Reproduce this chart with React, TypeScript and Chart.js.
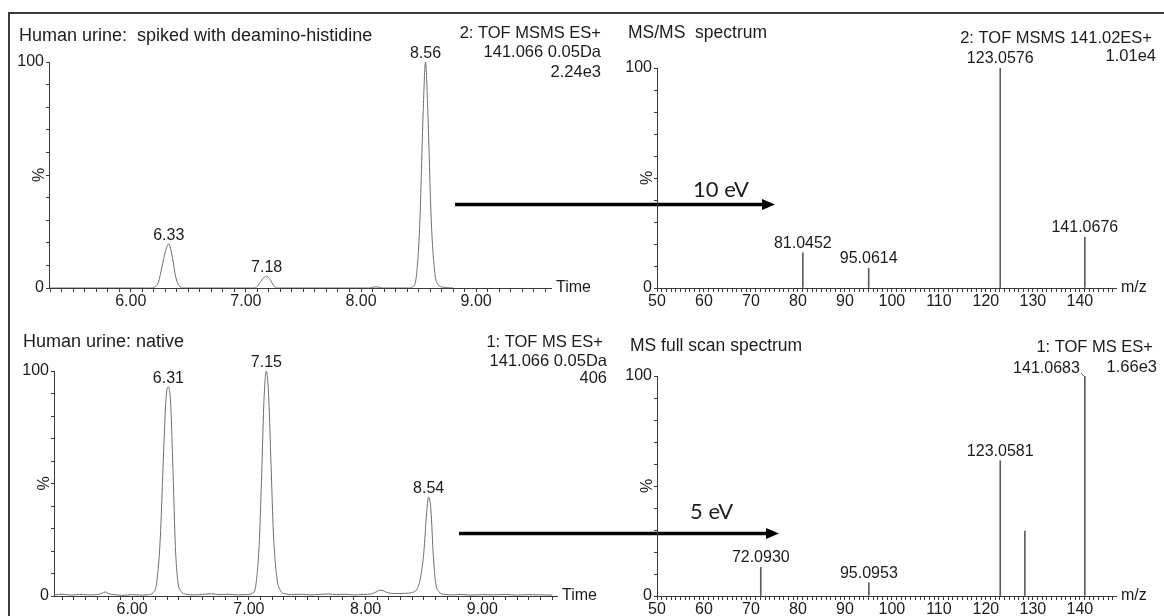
import React, { useEffect, useRef } from "react";
import { Chart, registerables } from "chart.js";

Chart.register(...registerables);

const PAGE_W = 1164;
const PAGE_H = 616;
const SANS = '"Liberation Sans", Arial, Helvetica, sans-serif';
const EV_FONT = 'Lato, "Open Sans", sans-serif';
const TEXT = "#1c1c1c";
const AXIS = "#3a3a3a";
const TRACE = "#6e6e6e";
const STICK = "#5e5e5e";

// ---------- data: chromatogram, spiked urine (2.24e3) ----------
const spikedTime = [5.30, 6.17, 6.21, 6.24, 6.27, 6.30, 6.33, 6.36, 6.39, 6.42, 6.46, 7.07, 7.10, 7.13, 7.16, 7.18, 7.21, 7.24, 7.27, 8.07, 8.10, 8.13, 8.16, 8.19, 8.41, 8.45, 8.48, 8.51, 8.54, 8.56, 8.58, 8.61, 8.64, 8.67, 8.71, 8.80];
const spikedPct = [0, 0, 0.5, 2.5, 9, 16, 19.5, 14, 5, 1, 0, 0, 0.8, 3, 4.8, 5.2, 3.8, 1.2, 0, 0, 0.3, 0.5, 0.3, 0, 0, 0.6, 5, 28, 78, 100, 78, 30, 7, 1.5, 0.4, 0];
const spikedPeakTimes = [6.33, 7.18, 8.56];

// ---------- data: chromatogram, native urine (406) ----------
const nativeTime = [5.33, 5.40, 5.48, 5.55, 5.62, 5.70, 5.74, 5.77, 5.80, 5.85, 5.92, 6.00, 6.08, 6.14, 6.18, 6.21, 6.24, 6.27, 6.29, 6.31, 6.33, 6.35, 6.37, 6.39, 6.42, 6.46, 6.52, 6.60, 6.68, 6.75, 6.82, 6.90, 6.98, 7.03, 7.06, 7.09, 7.11, 7.13, 7.15, 7.17, 7.19, 7.21, 7.24, 7.27, 7.31, 7.38, 7.45, 7.52, 7.60, 7.68, 7.75, 7.82, 7.90, 7.98, 8.05, 8.09, 8.12, 8.15, 8.18, 8.22, 8.28, 8.34, 8.40, 8.44, 8.47, 8.50, 8.52, 8.54, 8.56, 8.58, 8.60, 8.63, 8.67, 8.75, 8.82, 8.90, 9.00, 9.10, 9.20, 9.30, 9.40, 9.50, 9.60];
const nativePct = [0.5, 0.8, 0.4, 0.7, 0.5, 0.6, 1.2, 1.8, 1.0, 0.6, 0.3, 0.6, 0.4, 0.6, 1.5, 6, 25, 65, 88, 93, 85, 55, 22, 7, 2, 0.8, 0.5, 0.7, 1.0, 0.6, 0.8, 0.5, 0.6, 1.2, 5, 25, 55, 88, 100, 88, 58, 28, 8, 2.5, 1.0, 0.6, 0.8, 0.5, 0.7, 0.9, 0.6, 0.8, 0.5, 0.7, 0.9, 1.8, 2.6, 2.4, 1.6, 1.2, 1.1, 1.2, 1.6, 3, 8, 20, 35, 44, 38, 18, 6, 1.8, 0.8, 0.5, 0.7, 0.4, 0.6, 0.5, 0.7, 0.4, 0.6, 0.5, 0.4];
const nativePeakTimes = [6.31, 7.15, 8.54];

// ---------- data: MS/MS spectrum (1.01e4) ----------
const msmsMz = [81.0452, 95.0614, 123.0576, 141.0676];
const msmsPct = [16, 9, 100, 23];
const msmsLabels = ["81.0452", "95.0614", "123.0576", "141.0676"];

// ---------- data: MS full scan spectrum (1.66e3) ----------
const fullMz = [72.093, 95.0953, 123.0581, 128.3, 141.0683];
const fullPct = [13, 6, 61.5, 29.5, 100];
const fullLabels = ["72.0930", "95.0953", "123.0581", "", "141.0683"];

// ---------- tick labels ----------
const timeMajorTicks = [6, 7, 8, 9];
const mzMajorTicks = [50, 60, 70, 80, 90, 100, 110, 120, 130, 140];
const pctLabelTicks = [0, 100];

// ---------- layout ----------
type Panel = { left: number; top: number; bottom: number; right: number; xMin: number; xMax: number };
const TL: Panel = { left: 49, top: 62, bottom: 288, right: 551, xMin: 5.29, xMax: 9.65 };
const BL: Panel = { left: 54, top: 371, bottom: 596, right: 557, xMin: 5.33, xMax: 9.64 };
const TR: Panel = { left: 657, top: 68, bottom: 288, right: 1116, xMin: 50, xMax: 147.7 };
const BR: Panel = { left: 657, top: 376, bottom: 596, right: 1116, xMin: 50, xMax: 147.7 };
const Y_BOX = 40;
const X_BOX = 18;

type Txt = { s: string; x: number; y: number; align: CanvasTextAlign; size: number; family?: string };

const topLeftTexts: Txt[] = [
  { s: "Human urine:  spiked with deamino-histidine", x: 19, y: 36, align: "left", size: 18 },
  { s: "2: TOF MSMS ES+", x: 601, y: 33, align: "right", size: 16.5 },
  { s: "141.066 0.05Da", x: 601, y: 52, align: "right", size: 16.5 },
  { s: "2.24e3", x: 601, y: 72, align: "right", size: 16.5 },
];
const topRightTexts: Txt[] = [
  { s: "MS/MS  spectrum", x: 628, y: 33, align: "left", size: 17.5 },
  { s: "2: TOF MSMS 141.02ES+", x: 1152, y: 38, align: "right", size: 16.5 },
  { s: "1.01e4", x: 1156, y: 56, align: "right", size: 16.5 },
  { s: "10 eV", x: 693, y: 190, align: "left", size: 22, family: EV_FONT },
];
const bottomLeftTexts: Txt[] = [
  { s: "Human urine: native", x: 23, y: 342, align: "left", size: 18 },
  { s: "1: TOF MS ES+", x: 603, y: 342, align: "right", size: 16.5 },
  { s: "141.066 0.05Da", x: 607, y: 361, align: "right", size: 16.5 },
  { s: "406", x: 607, y: 378, align: "right", size: 16.5 },
];
const bottomRightTexts: Txt[] = [
  { s: "MS full scan spectrum", x: 630, y: 346, align: "left", size: 17.5 },
  { s: "1: TOF MS ES+", x: 1153, y: 347, align: "right", size: 16.5 },
  { s: "1.66e3", x: 1157, y: 367, align: "right", size: 16.5 },
  { s: "5 eV", x: 690, y: 512, align: "left", size: 22, family: EV_FONT },
];

type Arrow = { x0: number; x1: number; y: number };
const topArrow: Arrow = { x0: 455, x1: 775, y: 204.5 };
const bottomArrow: Arrow = { x0: 459, x1: 779, y: 533.5 };

function drawText(ctx: CanvasRenderingContext2D, t: Txt) {
  ctx.save();
  ctx.font = `${t.size}px ${t.family ?? SANS}`;
  ctx.fillStyle = TEXT;
  ctx.textAlign = t.align;
  ctx.textBaseline = "middle";
  ctx.fillText(t.s, t.x, t.y);
  ctx.restore();
}

function drawArrow(ctx: CanvasRenderingContext2D, a: Arrow) {
  ctx.save();
  ctx.strokeStyle = "#000";
  ctx.fillStyle = "#000";
  ctx.lineWidth = 3.5;
  ctx.beginPath();
  ctx.moveTo(a.x0, a.y);
  ctx.lineTo(a.x1 - 11, a.y);
  ctx.stroke();
  ctx.beginPath();
  ctx.moveTo(a.x1, a.y);
  ctx.lineTo(a.x1 - 13, a.y - 5.5);
  ctx.lineTo(a.x1 - 13, a.y + 5.5);
  ctx.closePath();
  ctx.fill();
  ctx.restore();
}

function stepTicks(min: number, max: number, step: number) {
  const out: number[] = [];
  const start = Math.ceil(min / step - 1e-9);
  for (let k = start; k * step <= max + 1e-9; k++) out.push(Math.round(k * step * 1000) / 1000);
  return out;
}

function baseOptions(p: Panel, xStep: number, xMajors: number[], xFmt: (v: number) => string) {
  return {
    responsive: false,
    animation: false,
    devicePixelRatio: 1,
    events: [],
    layout: {
      padding: { left: p.left - Y_BOX, top: p.top, right: PAGE_W - p.right, bottom: PAGE_H - p.bottom - X_BOX },
    },
    plugins: { legend: { display: false }, tooltip: { enabled: false }, title: { display: false } },
    scales: {
      x: {
        type: "linear",
        min: p.xMin,
        max: p.xMax,
        offset: false,
        border: { display: true, color: AXIS, width: 1 },
        grid: { display: true, drawOnChartArea: false, drawTicks: true, tickLength: 4, color: AXIS, tickColor: AXIS, offset: false },
        ticks: {
          autoSkip: false,
          maxRotation: 0,
          minRotation: 0,
          padding: 0,
          color: TEXT,
          font: { family: SANS, size: 16 },
          callback: (v: number) => (xMajors.some((m) => Math.abs(m - v) < 1e-6) ? xFmt(v) : ""),
        },
        afterBuildTicks: (s: any) => {
          s.ticks = stepTicks(p.xMin, p.xMax, xStep).map((value) => ({ value }));
        },
        afterFit: (s: any) => {
          s.height = X_BOX;
        },
      },
      y: {
        type: "linear",
        min: 0,
        max: 100,
        border: { display: true, color: AXIS, width: 1 },
        grid: { display: true, drawOnChartArea: false, drawTicks: true, tickLength: 3, color: AXIS, tickColor: AXIS },
        ticks: {
          autoSkip: false,
          padding: 2,
          color: TEXT,
          font: { family: SANS, size: 16 },
          callback: (v: number) => (pctLabelTicks.includes(v) ? String(v) : ""),
        },
        afterBuildTicks: (s: any) => {
          s.ticks = stepTicks(0, 100, 10).map((value) => ({ value }));
        },
        afterFit: (s: any) => {
          s.width = Y_BOX;
        },
      },
    },
  };
}

function commonDecor(chart: any, endLabel: string) {
  const { ctx, chartArea } = chart;
  ctx.save();
  ctx.font = `16px ${SANS}`;
  ctx.fillStyle = TEXT;
  ctx.textBaseline = "middle";
  ctx.textAlign = "left";
  ctx.fillText(endLabel, chartArea.right + 5, chartArea.bottom);
  ctx.translate(chartArea.left - 9, (chartArea.top + chartArea.bottom) / 2);
  ctx.rotate(-Math.PI / 2);
  ctx.textAlign = "center";
  ctx.fillText("%", 0, 0);
  ctx.restore();
}

function traceConfig(p: Panel, times: number[], pct: number[], peakTimes: number[], texts: Txt[], arrow?: Arrow) {
  const opts: any = baseOptions(p, 0.1, timeMajorTicks, (v) => v.toFixed(2));
  return {
    type: "scatter",
    data: {
      datasets: [
        {
          data: times.map((t, i) => ({ x: t, y: pct[i] })),
          showLine: true,
          borderColor: TRACE,
          borderWidth: 1,
          pointRadius: 0,
          cubicInterpolationMode: "monotone",
          fill: false,
        },
      ],
    },
    options: opts,
    plugins: [
      {
        id: "traceDecor",
        afterDraw(chart: any) {
          const { ctx, scales } = chart;
          commonDecor(chart, "Time");
          ctx.save();
          ctx.font = `16px ${SANS}`;
          ctx.fillStyle = TEXT;
          ctx.textAlign = "center";
          ctx.textBaseline = "alphabetic";
          peakTimes.forEach((pt) => {
            let apex = 0;
            times.forEach((t, i) => {
              if (Math.abs(t - pt) <= 0.035 && pct[i] > apex) apex = pct[i];
            });
            const x = scales.x.getPixelForValue(pt);
            const y = scales.y.getPixelForValue(apex);
            ctx.fillText(pt.toFixed(2), x, y - 4);
          });
          ctx.restore();
          texts.forEach((t) => drawText(ctx, t));
          if (arrow) drawArrow(ctx, arrow);
        },
      },
    ],
  };
}

function spectrumConfig(p: Panel, mz: number[], pct: number[], labels: string[], texts: Txt[], leaderLabel?: string) {
  const opts: any = baseOptions(p, 1, mzMajorTicks, (v) => String(Math.round(v)));
  return {
    type: "bar",
    data: {
      datasets: [
        {
          data: mz.map((m, i) => ({ x: m, y: pct[i] })),
          backgroundColor: STICK,
          borderWidth: 0,
          barThickness: 1,
          grouped: false,
        },
      ],
    },
    options: opts,
    plugins: [
      {
        id: "specDecor",
        afterDraw(chart: any) {
          const { ctx } = chart;
          commonDecor(chart, "m/z");
          const meta = chart.getDatasetMeta(0);
          ctx.save();
          ctx.font = `16px ${SANS}`;
          ctx.fillStyle = TEXT;
          ctx.textBaseline = "alphabetic";
          labels.forEach((lab, i) => {
            if (!lab) return;
            const bar = meta.data[i];
            if (lab === leaderLabel) {
              ctx.textAlign = "right";
              ctx.fillText(lab, bar.x - 5, bar.y - 3);
              ctx.strokeStyle = STICK;
              ctx.lineWidth = 1;
              ctx.beginPath();
              ctx.moveTo(bar.x - 4, bar.y - 3);
              ctx.lineTo(bar.x, bar.y + 1);
              ctx.stroke();
            } else {
              ctx.textAlign = "center";
              ctx.fillText(lab, bar.x, bar.y - 5);
            }
          });
          ctx.restore();
          texts.forEach((t) => drawText(ctx, t));
        },
      },
    ],
  };
}

export default function App() {
  const r1 = useRef<HTMLCanvasElement>(null);
  const r2 = useRef<HTMLCanvasElement>(null);
  const r3 = useRef<HTMLCanvasElement>(null);
  const r4 = useRef<HTMLCanvasElement>(null);

  useEffect(() => {
    const charts = [
      new Chart(r1.current as HTMLCanvasElement, traceConfig(TL, spikedTime, spikedPct, spikedPeakTimes, topLeftTexts, topArrow) as any),
      new Chart(r2.current as HTMLCanvasElement, traceConfig(BL, nativeTime, nativePct, nativePeakTimes, bottomLeftTexts, bottomArrow) as any),
      new Chart(r3.current as HTMLCanvasElement, spectrumConfig(TR, msmsMz, msmsPct, msmsLabels, topRightTexts) as any),
      new Chart(r4.current as HTMLCanvasElement, spectrumConfig(BR, fullMz, fullPct, fullLabels, bottomRightTexts, "141.0683") as any),
    ];
    return () => charts.forEach((c) => c.destroy());
  }, []);

  const canvasStyle: React.CSSProperties = { position: "absolute", left: 0, top: 0, width: PAGE_W, height: PAGE_H };

  return (
    <div style={{ position: "absolute", left: 0, top: 0, width: PAGE_W, height: PAGE_H, background: "#fff", overflow: "hidden" }}>
      <div
        style={{
          position: "absolute",
          left: 8,
          top: 12,
          width: PAGE_W,
          height: PAGE_H,
          borderLeft: "2px solid #3c3c3c",
          borderTop: "2px solid #3c3c3c",
        }}
      />
      <canvas ref={r1} width={PAGE_W} height={PAGE_H} style={canvasStyle} />
      <canvas ref={r2} width={PAGE_W} height={PAGE_H} style={canvasStyle} />
      <canvas ref={r3} width={PAGE_W} height={PAGE_H} style={canvasStyle} />
      <canvas ref={r4} width={PAGE_W} height={PAGE_H} style={canvasStyle} />
    </div>
  );
}
